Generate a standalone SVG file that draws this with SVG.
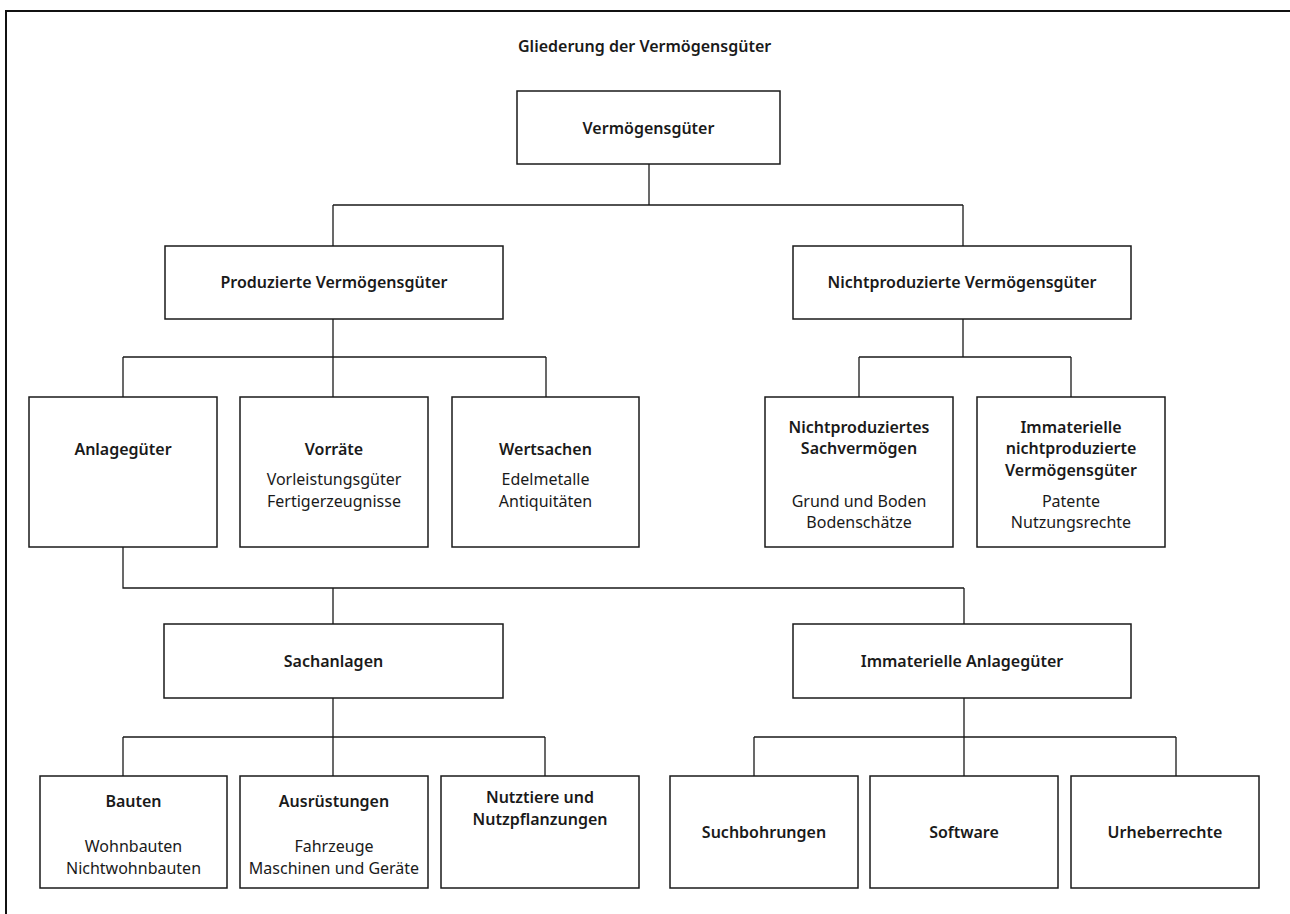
<svg xmlns="http://www.w3.org/2000/svg" width="1290" height="914" viewBox="0 0 1290 914">
<style>
.box{fill:#fff;stroke:#1a1a1a;stroke-width:1.5}
.ln{stroke:#1a1a1a;stroke-width:1.3;fill:none}
text{font-family:"Noto Sans","Liberation Sans",sans-serif;font-size:16px;fill:#1a1a1a;text-anchor:middle}
.b{font-weight:600}
.t{font-size:16px;font-weight:600;text-anchor:start}
</style>
<rect width="1290" height="914" fill="#fff"/>
<path d="M6,914 V11 H1290" fill="none" stroke="#111" stroke-width="2"/>
<text class="t" x="518" y="52">Gliederung der Vermögensgüter</text>
<g id="connectors" class="ln">
<path d="M649,164 V205 M333,205 H963 M333,205 V246 M963,205 V246"/>
<path d="M333,319 V357 M123,357 H546 M123,357 V397 M333,357 V397 M546,357 V397"/>
<path d="M963,319 V357 M859,357 H1071 M859,357 V397 M1071,357 V397"/>
<path d="M123,547 V588 H964 M333,588 V624 M964,588 V624"/>
<path d="M333,698 V737 M123,737 H545 M123,737 V776 M333,737 V776 M545,737 V776"/>
<path d="M964,698 V737 M754,737 H1176 M754,737 V776 M964,737 V776 M1176,737 V776"/>
</g>
<g id="n-root"><rect class="box" x="517" y="91" width="263" height="73"/><text class="b" x="648.5" y="134">Vermögensgüter</text></g>
<g id="n-prod"><rect class="box" x="165" y="246" width="338" height="73"/><text class="b" x="334" y="288">Produzierte Vermögensgüter</text></g>
<g id="n-nprod"><rect class="box" x="793" y="246" width="338" height="73"/><text class="b" x="962" y="288">Nichtproduzierte Vermögensgüter</text></g>
<g id="n-anlage"><rect class="box" x="29" y="397" width="188" height="150"/><text class="b" x="123" y="455">Anlagegüter</text></g>
<g id="n-vorraete"><rect class="box" x="240" y="397" width="188" height="150"/><text class="b" x="334" y="455">Vorräte</text><text x="334" y="485">Vorleistungsgüter</text><text x="334" y="507">Fertigerzeugnisse</text></g>
<g id="n-wert"><rect class="box" x="452" y="397" width="187" height="150"/><text class="b" x="545.5" y="455">Wertsachen</text><text x="545.5" y="485">Edelmetalle</text><text x="545.5" y="507">Antiquitäten</text></g>
<g id="n-npsach"><rect class="box" x="765" y="397" width="188" height="150"/><text class="b" x="859" y="433">Nichtproduziertes</text><text class="b" x="859" y="454">Sachvermögen</text><text x="859" y="507">Grund und Boden</text><text x="859" y="528">Bodenschätze</text></g>
<g id="n-npimm"><rect class="box" x="977" y="397" width="188" height="150"/><text class="b" x="1071" y="433">Immaterielle</text><text class="b" x="1071" y="454">nichtproduzierte</text><text class="b" x="1071" y="476">Vermögensgüter</text><text x="1071" y="507">Patente</text><text x="1071" y="528">Nutzungsrechte</text></g>
<g id="n-sach"><rect class="box" x="164" y="624" width="339" height="74"/><text class="b" x="333.5" y="667">Sachanlagen</text></g>
<g id="n-imm"><rect class="box" x="793" y="624" width="338" height="74"/><text class="b" x="962" y="667">Immaterielle Anlagegüter</text></g>
<g id="n-bauten"><rect class="box" x="40" y="776" width="187" height="112"/><text class="b" x="133.5" y="807">Bauten</text><text x="133.5" y="852">Wohnbauten</text><text x="133.5" y="874">Nichtwohnbauten</text></g>
<g id="n-ausr"><rect class="box" x="240" y="776" width="188" height="112"/><text class="b" x="334" y="807">Ausrüstungen</text><text x="334" y="852">Fahrzeuge</text><text x="334" y="874">Maschinen und Geräte</text></g>
<g id="n-nutz"><rect class="box" x="441" y="776" width="198" height="112"/><text class="b" x="540" y="803">Nutztiere und</text><text class="b" x="540" y="825">Nutzpflanzungen</text></g>
<g id="n-such"><rect class="box" x="670" y="776" width="188" height="112"/><text class="b" x="764" y="838">Suchbohrungen</text></g>
<g id="n-soft"><rect class="box" x="870" y="776" width="188" height="112"/><text class="b" x="964" y="838">Software</text></g>
<g id="n-urh"><rect class="box" x="1071" y="776" width="188" height="112"/><text class="b" x="1165" y="838">Urheberrechte</text></g>
</svg>
